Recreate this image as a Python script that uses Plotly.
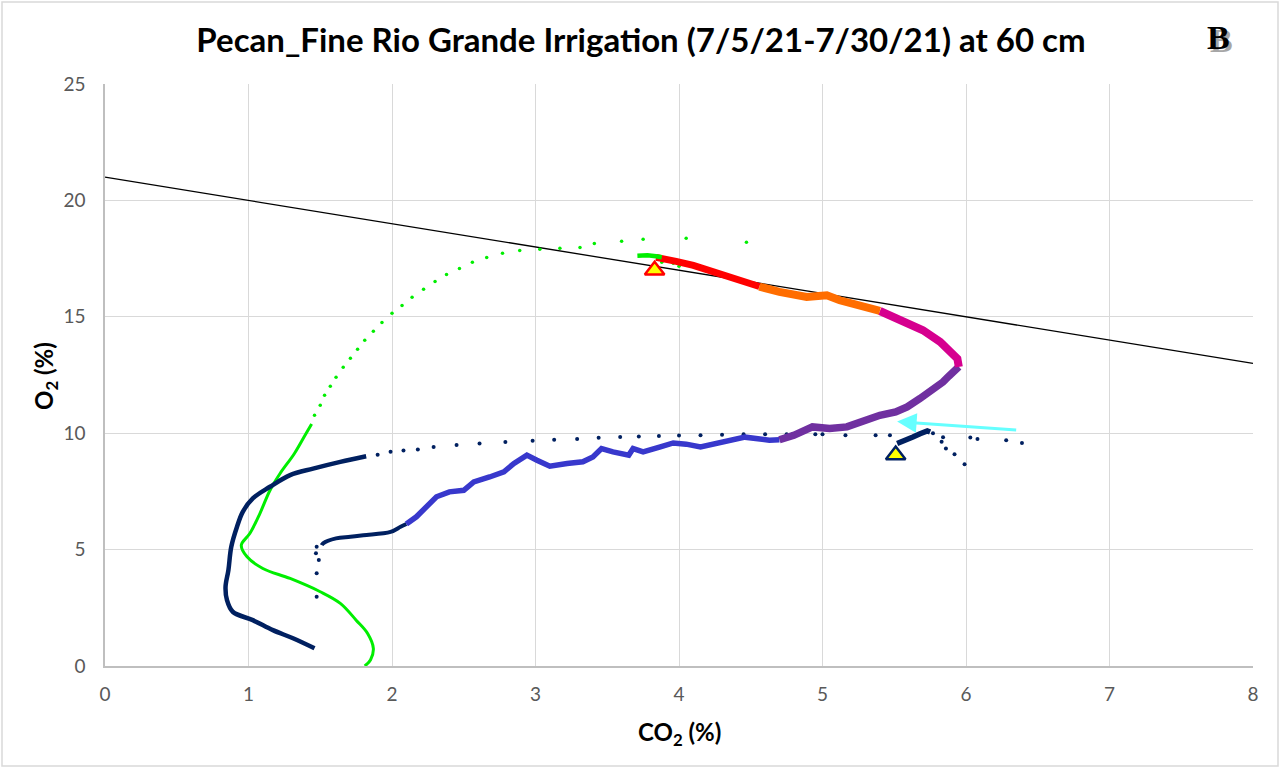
import plotly.graph_objects as go

# ---- CO2 / O2 readings at 60 cm (percent) ----
# stoichiometric respiration line
ref_co2 = [0, 8]
ref_o2 = [21, 13]

# green period: dense lower leg and sparse upper arc
green_dense_co2 = [1.81, 1.85, 1.87, 1.83, 1.75, 1.64, 1.50, 1.29, 1.10, 0.99, 0.95, 1.01, 1.08, 1.15, 1.22, 1.32, 1.40, 1.44]
green_dense_o2 = [0.0, 0.26, 0.76, 1.40, 1.97, 2.69, 3.19, 3.76, 4.19, 4.69, 5.19, 5.70, 6.56, 7.55, 8.27, 9.13, 9.98, 10.40]
green_sparse_co2 = [1.46, 1.50, 1.53, 1.57, 1.61, 1.66, 1.71, 1.76, 1.81, 1.87, 1.93, 2.00, 2.07, 2.14, 2.22, 2.30,
                    2.38, 2.47, 2.56, 2.66, 2.77, 2.89, 3.03, 3.17, 3.31, 3.41, 3.60, 3.75, 4.05, 4.47,
                    3.88, 3.96, 4.00, 4.24]
green_sparse_o2 = [10.77, 11.20, 11.63, 12.02, 12.40, 12.83, 13.22, 13.61, 13.99, 14.38, 14.76, 15.15, 15.49, 15.84, 16.18, 16.52,
                   16.82, 17.08, 17.34, 17.55, 17.73, 17.85, 17.90, 17.94, 17.98, 18.15, 18.24, 18.33, 18.37, 18.20,
                   17.34, 17.30, 17.17, 16.91]
green_start_co2 = [3.71, 3.78, 3.84, 3.88]
green_start_o2 = [17.62, 17.64, 17.60, 17.56]

red_co2 = [3.84, 3.90, 3.98, 4.10, 4.24, 4.36, 4.47, 4.56]
red_o2 = [17.55, 17.50, 17.38, 17.21, 16.92, 16.71, 16.49, 16.30]

orange_co2 = [4.56, 4.70, 4.89, 4.95, 5.03, 5.12, 5.28, 5.40]
orange_o2 = [16.30, 16.07, 15.85, 15.88, 15.92, 15.71, 15.42, 15.25]

magenta_co2 = [5.40, 5.54, 5.70, 5.82, 5.91, 5.94, 5.95]
magenta_o2 = [15.25, 14.85, 14.42, 13.92, 13.45, 13.20, 12.85]

purple_co2 = [5.95, 5.93, 5.88, 5.84, 5.77, 5.68, 5.59, 5.51, 5.40, 5.31, 5.17, 5.05, 4.93, 4.80, 4.70]
purple_o2 = [12.85, 12.70, 12.45, 12.20, 11.85, 11.49, 11.13, 10.91, 10.77, 10.56, 10.27, 10.20, 10.27, 9.91, 9.72]

blue_co2 = [4.70, 4.63, 4.46, 4.29, 4.15, 4.05, 3.96, 3.87, 3.75, 3.68, 3.65, 3.54, 3.46, 3.40, 3.33, 3.22, 3.10,
            3.01, 2.94, 2.85, 2.78, 2.68, 2.57, 2.50, 2.40, 2.31, 2.24, 2.17, 2.10]
blue_o2 = [9.72, 9.70, 9.83, 9.57, 9.41, 9.53, 9.58, 9.41, 9.20, 9.34, 9.06, 9.20, 9.34, 8.98, 8.77, 8.70, 8.58,
           8.84, 9.06, 8.70, 8.34, 8.12, 7.91, 7.55, 7.48, 7.27, 6.84, 6.41, 6.10]

navy_low_co2 = [2.10, 2.06, 1.99, 1.80, 1.71, 1.61, 1.52, 1.51]
navy_low_o2 = [6.10, 5.98, 5.76, 5.62, 5.55, 5.48, 5.27, 5.19]
navy_drop_co2 = [1.475, 1.47, 1.49, 1.475, 1.475]
navy_drop_o2 = [5.12, 4.84, 4.55, 3.98, 2.97]

navy_curve_co2 = [1.46, 1.31, 1.17, 1.03, 0.89, 0.85, 0.84, 0.86, 0.88, 0.92, 0.96, 1.03, 1.15, 1.29, 1.45, 1.64, 1.82]
navy_curve_o2 = [0.76, 1.19, 1.54, 1.97, 2.33, 2.83, 3.40, 4.12, 5.12, 5.98, 6.62, 7.20, 7.70, 8.20, 8.48, 8.77, 9.01]
navy_dots_co2 = [1.90, 1.99, 2.08, 2.18, 2.29, 2.45, 2.61, 2.79, 2.98, 3.13, 3.29, 3.44, 3.59, 3.72, 3.86, 4.00,
                 4.15, 4.30, 4.45, 4.60, 4.75, 4.79, 4.95, 5.00, 5.16, 5.37, 5.47,
                 5.77, 5.84, 5.83, 5.86, 5.92, 5.99, 6.03, 6.08, 6.28, 6.39]
navy_dots_o2 = [9.07, 9.20, 9.26, 9.30, 9.41, 9.49, 9.56, 9.62, 9.68, 9.72, 9.75, 9.80, 9.84, 9.86, 9.88, 9.90,
                9.91, 9.93, 9.95, 9.95, 9.96, 9.96, 9.96, 9.96, 9.91, 9.91, 9.91,
                10.00, 9.83, 9.63, 9.34, 9.10, 8.67, 9.81, 9.75, 9.70, 9.58]
navy_end_co2 = [5.52, 5.59, 5.63, 5.68, 5.73, 5.75]
navy_end_o2 = [9.56, 9.70, 9.84, 9.98, 10.10, 10.05]

# start / end markers
start_mark = (3.83, 17.0)
end_mark = (5.51, 9.06)
# direction arrow: tail -> head
arrow_tail = (6.36, 10.13)
arrow_head = (5.52, 10.50)

x_ticks = list(range(0, 9))
y_ticks = [0, 5, 10, 15, 20, 25]

NAVY = "#002060"
GREEN = "#00ee00"

# plot-area geometry in pixels
W, H = 1280, 768
L, T, PW, PH = 105, 84, 1148, 582


def px_to_paper(px, py):
    return (px - L) / PW, (T + PH - py) / PH


fig = go.Figure()


def path(x, y, color, width, shape="linear"):
    fig.add_trace(go.Scatter(x=x, y=y, mode="lines", line=dict(color=color, width=width, shape=shape),
                             hoverinfo="skip", showlegend=False))


def dots(x, y, color, size):
    fig.add_trace(go.Scatter(x=x, y=y, mode="markers", marker=dict(color=color, size=size),
                             hoverinfo="skip", showlegend=False))


fig.add_trace(go.Scatter(x=ref_co2, y=ref_o2, mode="lines", line=dict(color="black", width=1.3),
                         hoverinfo="skip", showlegend=False))

path(green_dense_co2, green_dense_o2, GREEN, 3, "spline")
dots(green_sparse_co2, green_sparse_o2, GREEN, 3.5)
path(navy_curve_co2, navy_curve_o2, NAVY, 4.5, "spline")
dots(navy_dots_co2, navy_dots_o2, NAVY, 4)
dots(navy_drop_co2, navy_drop_o2, NAVY, 4)
path(navy_low_co2, navy_low_o2, NAVY, 4, "spline")
path(blue_co2, blue_o2, "#3838cc", 5.5)
path(purple_co2, purple_o2, "#7030a0", 7.5)
path(magenta_co2, magenta_o2, "#d6008f", 8)
path(orange_co2, orange_o2, "#ff6d00", 8)
path(red_co2, red_o2, "#ff0000", 7)
path(green_start_co2, green_start_o2, GREEN, 4.5)
path(navy_end_co2, navy_end_o2, NAVY, 5.5)

fig.add_trace(go.Scatter(x=[start_mark[0]], y=[start_mark[1]], mode="markers",
                         marker=dict(symbol="triangle-up", size=17, color="#ffff00",
                                     line=dict(color="#ff0000", width=2.5)),
                         hoverinfo="skip", showlegend=False))
fig.add_trace(go.Scatter(x=[end_mark[0]], y=[end_mark[1]], mode="markers",
                         marker=dict(symbol="triangle-up", size=17, color="#ffff00",
                                     line=dict(color=NAVY, width=2.5)),
                         hoverinfo="skip", showlegend=False))

fig.add_annotation(x=arrow_head[0], y=arrow_head[1], ax=arrow_tail[0], ay=arrow_tail[1],
                   xref="x", yref="y", axref="x", ayref="y", text="", showarrow=True,
                   arrowhead=2, arrowsize=1.3, arrowwidth=3, arrowcolor="#66ffff")

# logo: shadow then letter
for (px, py, col) in [(1221, 40, "#a6a6a6"), (1218, 37, "black")]:
    lx, ly = px_to_paper(px, py)
    fig.add_annotation(x=lx, y=ly, xref="paper", yref="paper", xanchor="center", yanchor="middle",
                       text="<b>B</b>", showarrow=False,
                       font=dict(family="Liberation Serif", size=34, color=col))

# y axis title
tx, ty = px_to_paper(45, 376)
fig.add_annotation(x=tx, y=ty, xref="paper", yref="paper", xanchor="center", yanchor="middle",
                   text="<b>O<sub>2</sub> (%)</b>", textangle=-90, showarrow=False,
                   font=dict(family="Lato", size=24, color="black"))
# x axis title
tx, ty = px_to_paper(679, 733)
fig.add_annotation(x=tx, y=ty, xref="paper", yref="paper", xanchor="center", yanchor="middle",
                   text="<b>CO<sub>2</sub> (%)</b>", showarrow=False,
                   font=dict(family="Lato", size=24, color="black"))

# outer chart border
x0, y0 = px_to_paper(2, 766)
x1, y1 = px_to_paper(1278, 2)
fig.add_shape(type="rect", xref="paper", yref="paper", x0=x0, y0=y0, x1=x1, y1=y1,
              line=dict(color="#d9d9d9", width=1.5), fillcolor="rgba(0,0,0,0)", layer="below")

fig.update_layout(
    width=W, height=H,
    margin=dict(l=L, r=W - L - PW, t=T, b=H - T - PH),
    paper_bgcolor="white", plot_bgcolor="white",
    font=dict(family="Lato", color="#595959"),
    title=dict(text="<b>Pecan_Fine Rio Grande Irrigation (7/5/21-7/30/21) at 60 cm</b>",
               x=641 / W, xref="container", xanchor="center", y=1 - 40 / H, yanchor="middle",
               font=dict(family="Lato", size=33, color="black")),
    xaxis=dict(range=[0, 8], tickvals=x_ticks, showgrid=True, gridcolor="#d9d9d9", gridwidth=1.3,
               zeroline=False, showline=True, linecolor="#bfbfbf", linewidth=1.5,
               tickfont=dict(family="Lato", size=19, color="#595959"), ticks="", ticklabelstandoff=10),
    yaxis=dict(range=[0, 25], tickvals=y_ticks, showgrid=True, gridcolor="#d9d9d9", gridwidth=1.3,
               zeroline=False, showline=True, linecolor="#bfbfbf", linewidth=1.5,
               tickfont=dict(family="Lato", size=19, color="#595959"), ticks="", ticklabelstandoff=14),
)

fig.write_html("out.html")
